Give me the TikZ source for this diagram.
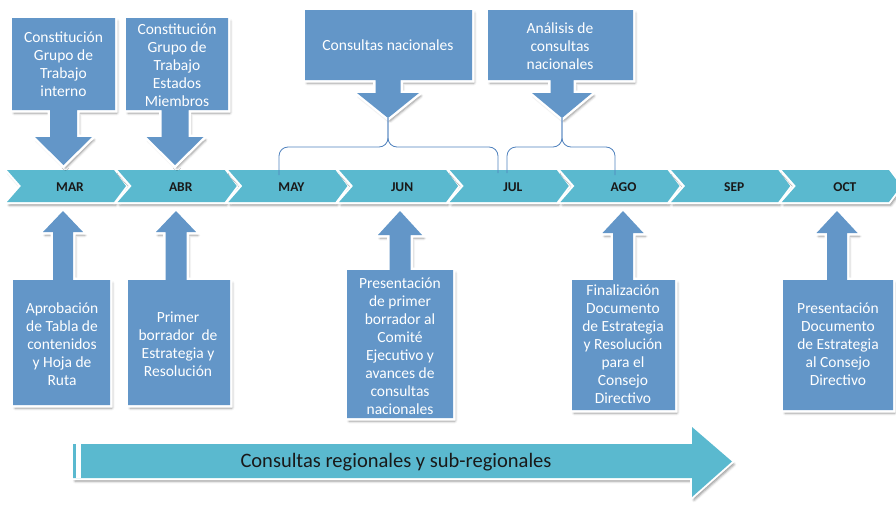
\documentclass[tikz,border=0pt]{standalone}
\usepackage{fontspec}
\setmainfont{Carlito}
\usetikzlibrary{shadows.blur}

\definecolor{calloutblue}{RGB}{99,150,200}
\definecolor{monthteal}{RGB}{90,185,207}
\definecolor{bracketblue}{RGB}{79,129,189}

\begin{document}
\begin{tikzpicture}[
    x=1pt, y=-1pt,
    softshadow/.style = {
        blur shadow={shadow xshift=2pt, shadow yshift=-3pt, shadow blur radius=2.5pt, shadow opacity=45}
    },
    monthchevron/.style = {softshadow, preaction={draw=white, line width=4pt}, fill=monthteal},
    calloutshape/.style = {softshadow, preaction={draw=white, line width=5pt}, fill=calloutblue},
    monthtext/.style = {font=\fontsize{13.5}{15}\selectfont\bfseries, text=black!90},
    boxtext/.style = {text=white, align=center, font=\fontsize{15.5}{18}\selectfont},
    bracket/.style = {draw=bracketblue, line width=0.8pt, rounded corners=9pt}
]
\useasboundingbox (0,0) rectangle (896,506);

% months
\foreach \m [count=\i from 0] in {MAR,ABR,MAY,JUN,JUL,AGO,SEP,OCT} {
    \pgfmathsetmacro{\s}{7+110.7*\i}
    \path[monthchevron] (\s,170) -- ++(107,0) -- ++(12,16) -- ++(-12,16) -- ++(-107,0) -- ++(14,-16) -- cycle;
    \node[monthtext] (\m) at (\s+63,187) {\m};
}

% callouts: box x, far edge y, near edge y, arrow x, shaft, head, head y, tip y
\foreach \xa/\xb/\yf/\yn/\cx/\sh/\hh/\yh/\yt in {
    12/115/18/110/63.5/13.5/28.5/137/165,
    126/228/18/110/175/13.5/28.5/137/165,
    305/472/10/80/388/12.5/31/93/118,
    488/633/10/80/562/11.5/30/93/118,
    13/110/405/280/63/10/20/232/211,
    128/230/405/280/176/10.5/20/232/211,
    347/453/418/270/400/10.5/22/235/211,
    572/675/410/280/623/10/20.5/233/211,
    783/893/410/280/837/10/20.5/233/211}
    \path[calloutshape] (\xa,\yf) -- (\xb,\yf) -- (\xb,\yn) -- (\cx+\sh,\yn) -- (\cx+\sh,\yh)
        -- (\cx+\hh,\yh) -- (\cx,\yt) -- (\cx-\hh,\yh) -- (\cx-\sh,\yh) -- (\cx-\sh,\yn)
        -- (\xa,\yn) -- cycle;

\node[boxtext] (interno) at (63.5,64) {Constitución\\Grupo de\\Trabajo\\interno};
\node[boxtext] (miembros) at (177,65) {Constitución\\Grupo de\\Trabajo\\Estados\\Miembros};
\node[boxtext] (nacionales) at (388,45) {Consultas nacionales};
\node[boxtext] (analisis) at (560,46) {Análisis de\\consultas\\nacionales};
\node[boxtext] (aprobacion) at (62,344) {Aprobación\\de Tabla de\\contenidos\\y Hoja de\\Ruta};
\node[boxtext] (borrador) at (178,344) {Primer\\borrador\ \ de\\Estrategia y\\Resolución};
\node[boxtext] (comite) at (400,346) {Presentación\\de primer\\borrador al\\Comité\\Ejecutivo y\\avances de\\consultas\\nacionales};
\node[boxtext] (finalizacion) at (623,344) {Finalización\\Documento\\de Estrategia\\y Resolución\\para el\\Consejo\\Directivo};
\node[boxtext] (consejo) at (838,344) {Presentación\\Documento\\de Estrategia\\al Consejo\\Directivo};

% brackets
\coordinate (nactip) at (388,118);
\coordinate (nacbar) at (388,147);
\coordinate (nacL) at (279,175);
\coordinate (nacR) at (498,173);
\coordinate (anatip) at (562,118);
\coordinate (anabar) at (562,147);
\coordinate (anaL) at (507,173);
\coordinate (anaR) at (615,175);
\draw[bracket] (nacL) |- (nacbar) -- (nactip);
\draw[bracket] (nacR) |- (nacbar) -- (nactip);
\draw[bracket] (anaL) |- (anabar) -- (anatip);
\draw[bracket] (anaR) |- (anabar) -- (anatip);

% regional consultations
\path[monthchevron] (73,444) -- (692,444) -- (692,427) -- (732,461.5) -- (692,497) -- (692,478) -- (73,478) -- cycle;
\fill[white] (75.5,444) rectangle (81,478);
\node[font=\fontsize{20.5}{24}\selectfont, text=black!90] (regionales) at (396,462) {Consultas regionales y sub-regionales};
\end{tikzpicture}
\end{document}
